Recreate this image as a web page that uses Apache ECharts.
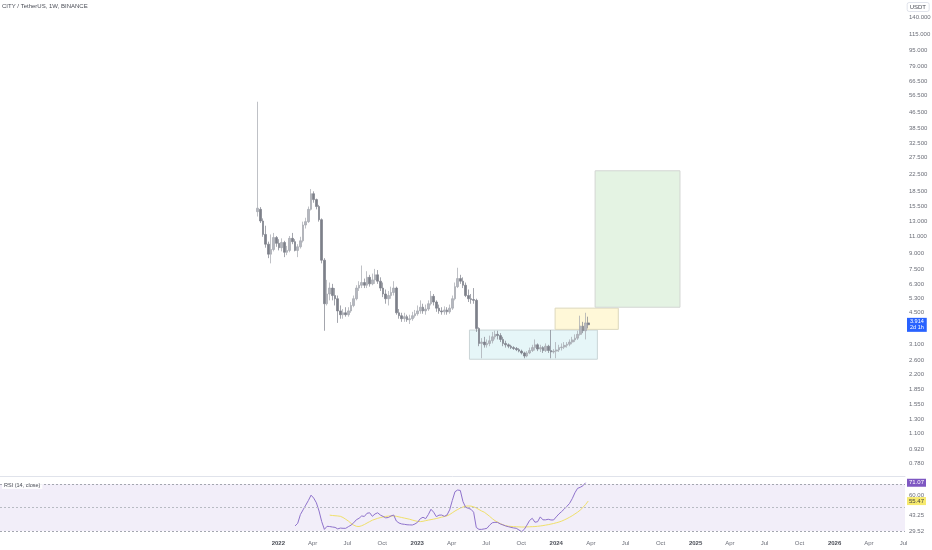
<!DOCTYPE html>
<html><head><meta charset="utf-8">
<script src="https://cdn.jsdelivr.net/npm/echarts@6/dist/echarts.min.js"></script>
<style>html,body{margin:0;padding:0;background:#fff}#c{width:932px;height:550px}</style>
</head><body><div id="c"></div>
<script>
// ---- data (weekly candles, CITY/USDT) ----
const weekStart = '2021-11-08';
const opens  = [14.6,15.0,13.1,11.2,10.0,8.9,9.4,10.8,10.1,9.6,10.2,9.1,9.3,10.7,10.3,9.3,9.7,10.4,12.5,13.0,15.0,18.0,16.8,15.5,13.3,8.3,5.0,5.6,6.0,5.5,5.3,4.6,4.4,4.5,4.4,4.6,4.9,5.3,6.0,6.2,6.4,6.2,6.8,6.3,6.6,7.0,6.5,6.0,5.6,5.3,5.5,5.7,6.0,4.5,4.35,4.2,4.3,4.15,4.2,4.35,4.45,4.6,4.8,4.6,4.7,5.0,5.45,5.1,4.75,4.6,4.55,4.65,4.55,4.75,5.3,6.1,6.7,6.5,6.2,5.5,5.3,5.25,5.2,3.75,3.15,3.2,3.1,3.15,3.25,3.4,3.5,3.45,3.3,3.15,3.1,3.05,3.0,2.97,2.93,2.88,2.82,2.72,2.82,2.9,3.0,3.1,2.95,3.0,2.9,3.05,2.9,2.85,2.88,2.92,3.0,3.02,3.08,3.12,3.2,3.28,3.35,3.5,3.85,3.65,4.0];
const closes = [15.2,13.1,11.2,10.0,8.9,9.4,10.8,10.1,9.6,10.2,9.1,9.3,10.7,10.3,9.3,9.7,10.4,12.5,13.0,15.0,18.0,16.8,15.5,13.3,8.3,5.0,5.6,6.0,5.5,5.3,4.6,4.4,4.5,4.4,4.6,4.9,5.3,6.0,6.2,6.4,6.2,6.8,6.3,6.6,7.0,6.5,6.0,5.6,5.3,5.5,5.7,6.0,4.5,4.35,4.2,4.3,4.15,4.2,4.35,4.45,4.6,4.8,4.6,4.7,5.0,5.45,5.1,4.75,4.6,4.55,4.65,4.55,4.75,5.3,6.1,6.7,6.5,6.2,5.5,5.3,5.25,5.2,3.75,3.15,3.2,3.1,3.15,3.25,3.4,3.5,3.45,3.3,3.15,3.1,3.05,3.0,2.97,2.93,2.88,2.82,2.72,2.82,2.9,3.0,3.1,2.95,3.0,2.9,3.05,2.9,2.85,2.88,2.92,3.0,3.02,3.08,3.12,3.2,3.28,3.35,3.5,3.85,3.65,4.0,3.914];
const lows   = [13.8,12.8,10.9,9.6,8.5,8.0,9.2,9.7,9.3,9.2,8.6,8.8,9.1,10.0,9.2,8.6,9.5,10.2,12.0,12.8,14.8,16.2,15.0,13.0,8.0,3.65,4.9,5.2,5.2,4.9,4.0,4.2,4.2,4.3,4.3,4.5,4.8,5.2,5.8,6.0,6.0,6.0,6.1,6.2,6.3,6.3,5.8,5.4,5.0,4.9,5.3,5.5,4.4,4.2,4.05,4.05,4.05,3.95,4.1,4.25,4.35,4.45,4.45,4.4,4.6,4.9,4.9,4.55,4.45,4.4,4.4,4.4,4.45,4.65,5.2,6.0,6.3,6.0,5.4,5.1,5.0,5.0,3.6,3.05,2.65,3.0,3.0,3.05,3.15,3.3,3.3,3.2,3.05,3.0,2.98,2.95,2.92,2.88,2.84,2.77,2.65,2.68,2.78,2.85,2.9,2.88,2.85,2.82,2.85,2.82,2.65,2.8,2.65,2.85,2.9,2.95,3.0,3.05,3.12,3.2,3.28,3.45,3.55,3.3,3.75];
const highs  = [52.5,15.4,13.5,12.4,10.3,11.2,11.4,11.0,10.6,10.7,10.4,9.8,11.0,11.4,10.6,10.0,10.9,13.0,13.6,15.5,19.0,18.5,17.0,15.8,13.5,8.5,6.6,6.4,6.3,6.0,5.5,4.9,4.7,4.8,4.8,5.1,5.5,6.2,6.5,7.8,6.7,7.3,7.0,7.1,7.5,7.4,6.8,6.4,5.9,5.8,6.1,6.5,6.1,4.7,4.5,4.5,4.4,4.4,4.55,4.65,4.9,5.2,5.0,4.95,5.2,5.8,5.6,5.2,4.95,4.8,4.85,4.8,4.95,5.5,6.4,7.6,7.0,6.8,6.4,5.9,5.6,6.0,5.3,3.8,3.35,3.4,3.3,3.45,3.6,3.65,3.65,3.55,3.4,3.25,3.15,3.1,3.05,3.02,2.98,2.93,2.86,2.88,3.0,3.1,3.3,3.15,3.1,3.05,3.15,3.1,3.68,2.95,3.2,3.1,3.15,3.2,3.2,3.3,3.4,3.5,3.65,4.35,4.05,4.5,4.3];

const rsiStart = 14;
const rsiValues = [34.3,36.6,44,48,52,56,60.5,58,54,47,38,31.4,34,33.8,33.4,33.1,31.8,32.5,32.3,32.3,33.7,35,37,39.6,40.8,42.8,42.4,45.1,45.5,42.5,44.5,45.5,43.6,42.4,41.2,41.5,42.8,43.6,38.5,36.8,36,35.7,35.3,35.2,35.1,36,37.5,40.5,41.7,40.5,44,48.5,46,42.2,43.5,43.6,42.5,43.6,48,56,63.4,64.9,64.5,55,50.2,49.3,48.5,46,33,31.4,31.4,31.8,32.3,35,37,37.4,37.3,36,35.2,34.3,33.7,33.1,32.6,32.3,30.9,29.4,31.4,35,39,40.8,37.5,37.9,42,39.5,39.5,40,39.4,39.4,42,44.5,46.5,48.7,51,53.5,57.5,62.5,66.3,67.2,68.5,71.07];
// RSI-based moving average, starting at candle 27
const maStart = 27;
const maValues = [43.5,43.2,43.0,42.8,42.5,41.5,40,38.5,36.5,35,34,33.8,34.5,35.5,36.8,38,39.2,40,40.8,41.4,42,42.4,42.7,42.8,42.8,42.5,42,41.5,41,40.5,40,39.3,38.7,38.2,38,38.3,38.8,39.3,39.7,40.1,40.6,41.2,41.8,42.3,42.9,44,45.5,47,48.3,49.5,50.4,51.1,51.3,51.2,50.6,49.6,48.3,47,46,44.3,42.5,40.5,38.8,37.5,36.3,35.3,34.6,34.1,33.9,33.7,33.6,33.5,33.4,33.4,33.5,33.6,33.7,33.8,34,34.3,34.6,35,35.4,35.9,36.4,37,37.6,38.4,39.4,40.5,41.7,43,44.5,46,47.8,50,52.5,55.47];

// price-scale tick labels (log scale)
const priceTicks = [140,115,95,79,66.5,56.5,46.5,38.5,32.5,27.5,22.5,18.5,15.5,13,11,9,7.5,6.3,5.3,4.5,3.1,2.6,2.2,1.85,1.55,1.3,1.1,0.92,0.78];
const rsiTicks = [60, 43.25, 29.52];
const timeTickDates = ['2022-01-01','2022-04-01','2022-07-01','2022-10-01','2023-01-01','2023-04-01','2023-07-01','2023-10-01','2024-01-01','2024-04-01','2024-07-01','2024-10-01','2025-01-01','2025-04-01','2025-07-01','2025-10-01','2026-01-01','2026-04-01','2026-07-01'];
const timeTickLabels = ['2022','Apr','Jul','Oct','2023','Apr','Jul','Oct','2024','Apr','Jul','Oct','2025','Apr','Jul','Oct','2026','Apr','Jul'];

// drawn rectangles [startDate, lowPrice, endDate, highPrice]
const boxCyan   = ['2023-05-18', 2.62, '2024-04-18', 3.68];
const boxYellow = ['2023-12-29', 3.71, '2024-06-12', 4.75];
const boxGreen  = ['2024-04-12', 4.80, '2024-11-21', 23.5];

const lastPrice = 3.914;
const countdown = '2d 1h';
const rsiLast = 71.07, maLast = 55.47;

// ---- build ----
const P = (s) => Date.parse(s + 'T00:00:00Z');
const W = 7 * 24 * 3600 * 1000;
const t0 = P(weekStart);
const times = opens.map((_, i) => t0 + i * W);
const candles = opens.map((o, i) => [times[i], o, closes[i], lows[i], highs[i]]);
const rsiData = rsiValues.map((v, k) => [times[rsiStart + k], v]);
const maData = maValues.map((v, k) => [times[maStart + k], v]);
const tickTimes = timeTickDates.map(d => P(d));
const xMin = P('2020-01-01'), xMax = P('2026-07-05');
const boxArea = (b, fill, border) => [
  { coord: [P(b[0]), b[1]], itemStyle: { color: fill, borderColor: border, borderWidth: 1 } },
  { coord: [P(b[2]), b[3]] }
];
const FONT = 'Liberation Sans';
const TXT = '#6b6e78';
const HIDDEN_LINE = { color: 'rgba(0,0,0,0)', width: 0, opacity: 1 };

const chart = echarts.init(document.getElementById('c'), null, { renderer: 'canvas' });
chart.setOption({
  animation: false,
  backgroundColor: '#ffffff',
  textStyle: { fontFamily: FONT },
  title: [
    { text: 'CITY / TetherUS, 1W, BINANCE', left: 2, top: 3, padding: 0,
      textStyle: { fontSize: 6, fontWeight: 'normal', color: '#4a4d56', fontFamily: FONT } },
    { text: 'USDT', right: 3, top: 2, padding: [2, 3], borderColor: '#e0e3eb', borderWidth: 1, borderRadius: 2,
      textStyle: { fontSize: 6, fontWeight: 'normal', color: '#4a4d56', fontFamily: FONT } },
    { text: 'RSI (14, close)', left: 2, top: 481, padding: [1, 2], backgroundColor: 'rgba(255,255,255,0.85)',
      textStyle: { fontSize: 5.5, fontWeight: 'normal', color: '#4a4d56', fontFamily: FONT } }
  ],
  grid: [
    { left: 0, right: 27, top: 0, height: 476 },
    { left: 0, right: 27, top: 477, height: 60 }
  ],
  xAxis: [
    { type: 'value', gridIndex: 0, min: xMin, max: xMax, scale: true,
      axisLine: { show: true, onZero: false, lineStyle: { color: '#e0e3eb', width: 1 } },
      axisTick: { show: false }, axisLabel: { show: false }, splitLine: { show: false } },
    { type: 'value', gridIndex: 1, min: xMin, max: xMax, scale: true,
      axisLine: { show: false }, axisTick: { show: false }, splitLine: { show: false },
      axisLabel: {
        customValues: tickTimes, margin: 3, fontSize: 6, color: TXT, fontFamily: FONT,
        hideOverlap: false,
        formatter: (v) => {
          const k = tickTimes.indexOf(v);
          const s = k >= 0 ? timeTickLabels[k] : '';
          return /^\d{4}$/.test(s) ? '{y|' + s + '}' : s;
        },
        rich: { y: { fontSize: 6, fontWeight: 'bold', color: '#4a4d56', fontFamily: FONT } }
      } }
  ],
  yAxis: [
    { type: 'log', gridIndex: 0, min: 0.673, max: 171.6, position: 'right',
      axisLine: { show: false }, axisTick: { show: false }, axisLabel: { show: false }, splitLine: { show: false } },
    { type: 'value', gridIndex: 1, min: 24.9, max: 75.96, position: 'right',
      axisLine: { show: false }, axisTick: { show: false }, splitLine: { show: false },
      axisLabel: { customValues: rsiTicks, formatter: v => v.toFixed(2), margin: 4, fontSize: 6, color: TXT, fontFamily: FONT } }
  ],
  series: [
    { // drawings + price scale labels
      type: 'line', xAxisIndex: 0, yAxisIndex: 0, data: [], z: 1, silent: true,
      markArea: { silent: true, data: [
        boxArea(boxCyan, '#e6f6f8', '#c9d4d6'),
        boxArea(boxYellow, '#fff8d8', '#ddd8bd'),
        boxArea(boxGreen, '#e4f3e3', '#d3d6d3')
      ] },
      markLine: { silent: true, symbol: 'none', animation: false,
        lineStyle: HIDDEN_LINE,
        label: { show: true, opacity: 1, position: 'end', distance: 4, fontSize: 6, color: TXT, fontFamily: FONT,
          formatter: p => Number(p.value).toFixed(3) },
        data: priceTicks.map(v => ({ yAxis: v })) }
    },
    { type: 'candlestick', xAxisIndex: 0, yAxisIndex: 0, z: 5,
      data: candles, encode: { x: 0, y: [1, 2, 3, 4] },
      barMaxWidth: 2.2, barMinWidth: 1,
      itemStyle: { color: '#b4b7bf', color0: '#7d8089', borderColor: '#a3a6ae', borderColor0: '#7d8089', borderWidth: 0.7 },
      markLine: { silent: true, symbol: 'none', lineStyle: HIDDEN_LINE,
        label: { show: true, opacity: 1, position: 'end', distance: 2, backgroundColor: '#2962ff', color: '#fff', fontSize: 5.5,
          fontFamily: FONT, padding: [1, 3], lineHeight: 6, align: 'left',
          formatter: () => lastPrice.toFixed(3) + '\n' + countdown },
        data: [{ yAxis: lastPrice }] }
    },
    { type: 'line', xAxisIndex: 1, yAxisIndex: 1, data: rsiData, showSymbol: false, z: 4,
      lineStyle: { color: '#8f73cc', width: 1 },
      markArea: { silent: true, itemStyle: { color: 'rgba(126,87,194,0.1)' }, data: [[{ yAxis: 30 }, { yAxis: 70 }]] },
      markLine: { silent: true, symbol: 'none',
        data: [
          { yAxis: 70, lineStyle: { color: '#a4a7b0', type: [2, 2], width: 1 }, label: { show: false } },
          { yAxis: 50, lineStyle: { color: '#b8bbc3', type: [2, 2], width: 1 }, label: { show: false } },
          { yAxis: 30, lineStyle: { color: '#a4a7b0', type: [2, 2], width: 1 }, label: { show: false } },
          { yAxis: rsiLast, lineStyle: HIDDEN_LINE,
            label: { show: true, opacity: 1, position: 'end', distance: 2, backgroundColor: '#7e57c2', color: '#fff', fontSize: 6,
              fontFamily: FONT, padding: [1, 2], formatter: () => rsiLast.toFixed(2) } }
        ] }
    },
    { type: 'line', xAxisIndex: 1, yAxisIndex: 1, data: maData, showSymbol: false, z: 3,
      lineStyle: { color: '#f0e06a', width: 1 },
      markLine: { silent: true, symbol: 'none', lineStyle: HIDDEN_LINE,
        label: { show: true, opacity: 1, position: 'end', distance: 2, backgroundColor: '#f7ea6e', color: '#444', fontSize: 6,
          fontFamily: FONT, padding: [1, 2], formatter: () => maLast.toFixed(2) },
        data: [{ yAxis: maLast }] }
    }
  ]
});
</script>
</body></html>
